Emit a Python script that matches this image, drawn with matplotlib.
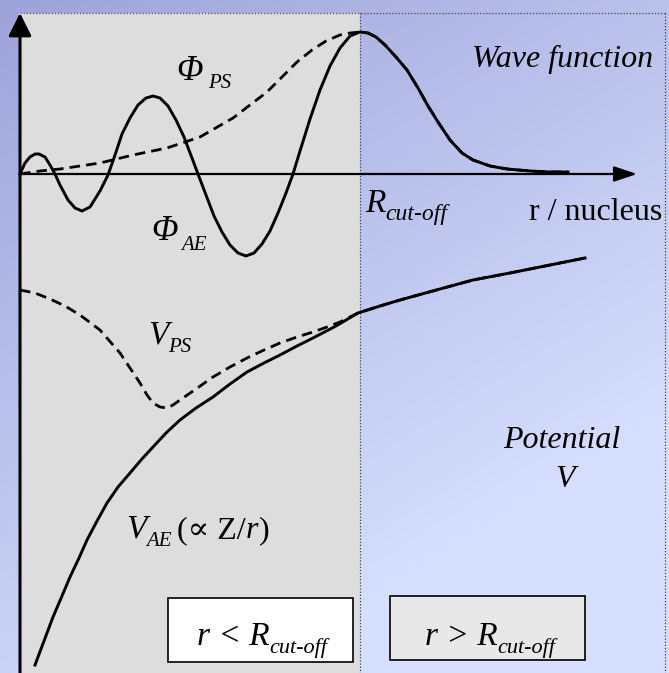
import matplotlib.pyplot as plt
import numpy as np
from matplotlib.patches import Rectangle

plt.rcParams['font.family'] = ['Liberation Serif', 'DejaVu Serif']

# radial coordinate and amplitudes in arbitrary units, cut-off radius at r = 340
r_cut = 340

# all-electron wave function inside the core region
phi_ae_r = [0, 5, 10, 15, 19, 25, 30, 35, 40, 48, 55, 62, 70, 80, 88, 95, 102, 110,
            118, 126, 133, 140, 148, 156, 164, 172, 178, 186, 194, 202, 210, 218,
            226, 234, 242, 250, 258, 266, 273, 280, 290, 300, 310, 320, 330, 340]
phi_ae_v = [0, 11, 17, 20, 20, 17, 9, 0, -11, -26, -34, -37, -33, -17, -1, 19, 40, 56,
            69, 76, 78, 76, 68, 54, 37, 16, 0, -21, -42, -58, -71, -79,
            -82, -79, -70, -57, -39, -19, 0, 23, 55, 84, 108, 126, 138, 142]

# pseudo wave function inside the core region (nodeless)
phi_ps_r = [0, 20, 40, 60, 80, 113, 147, 180, 213, 247, 262, 277, 292, 306, 320, 330, 340]
phi_ps_v = [0, 3, 5, 8, 11, 19, 26, 37, 56, 82, 97, 112, 124, 133, 139, 141, 142]

# beyond the cut-off both wave functions coincide
phi_tail_r = [348, 356, 365, 376, 387, 398, 408, 418, 430, 442, 453, 470, 487, 510, 530, 548]
phi_tail_v = [141, 137, 129, 117, 104, 86, 68, 52, 34, 21, 14, 8, 5, 3, 2, 2]

# all-electron potential (Coulomb-like) inside the core region
v_ae_r = [15, 24, 33, 42, 50, 59, 67, 77, 87, 98, 110, 121, 133, 146, 160, 176, 193,
          210, 227, 244, 260, 277, 293, 316, 338]
v_ae_v = [-491, -467, -443, -422, -403, -384, -366, -347, -329, -313, -299, -286, -273,
          -259, -246, -234, -223, -210, -198, -189, -181, -172, -164, -152, -139]

# pseudopotential inside the core region
v_ps_r = [0, 15, 30, 45, 60, 80, 100, 110, 120, 127, 133, 140, 147, 153, 160, 176, 193,
          210, 227, 244, 260, 277, 293, 307, 320, 338]
v_ps_v = [-116, -119, -125, -132, -141, -156, -179, -194, -209, -221, -229, -233, -234,
          -231, -226, -215, -203, -193, -184, -176, -169, -163, -158, -153, -148, -139]

# potentials are identical outside the core
v_tail_r = [360, 380, 420, 453, 490, 520, 565]
v_tail_v = [-132, -126, -115, -106, -99, -93, -84]


def label(ax, x, y, main, sub, size=23, subsize=15, gap=2, drop=8):
    t = ax.text(x, y, main, fontsize=size, fontstyle='italic',
                ha='left', va='baseline', zorder=6)
    s = ax.annotate(sub, xy=(1, y), xycoords=(t, 'data'), xytext=(gap, -drop),
                    textcoords='offset pixels', fontsize=subsize, fontstyle='italic',
                    ha='left', va='baseline', zorder=6)
    return s


def main():
    fig = plt.figure(figsize=(6.69, 6.73), dpi=100)
    ax = fig.add_axes([0, 0, 1, 1])
    x0, x1, y0, y1 = -20, 649, -499, 174
    ax.set_xlim(x0, x1)
    ax.set_ylim(y0, y1)
    ax.axis('off')

    # blue diagonal background
    yy, xx = np.mgrid[0:1:673j, 0:1:669j]
    t = np.clip(0.8 * yy + 0.5 * xx, 0, 1)[..., None]
    c0 = np.array([157, 163, 217]) / 255
    c1 = np.array([214, 223, 254]) / 255
    ax.imshow(c0 + (c1 - c0) * t, extent=(x0, x1, y0, y1), aspect='auto',
              origin='upper', zorder=0)

    # core region shaded grey
    top = 161
    ax.add_patch(Rectangle((-1, y0), r_cut + 1, top - y0, fc='#dddddd', ec='none', zorder=1))
    dot = dict(color='#444444', lw=0.9, ls=(0, (1, 1.5)), zorder=2)
    ax.plot([0, 645], [top, top], **dot)
    ax.plot([645, 645], [top, y0], **dot)
    ax.plot([r_cut, r_cut], [top, y0], **dot)

    # axes with arrow heads
    ax.annotate('', xy=(0, top), xytext=(0, y0),
                arrowprops=dict(arrowstyle='-|>,head_length=1.4,head_width=0.7',
                                lw=2.2, color='black', shrinkA=0, shrinkB=0,
                                mutation_scale=10), zorder=4)
    ax.annotate('', xy=(617, 0), xytext=(0, 0),
                arrowprops=dict(arrowstyle='-|>,head_length=1.4,head_width=0.47',
                                lw=1.6, color='black', shrinkA=0, shrinkB=0,
                                mutation_scale=10), zorder=4)

    # wave functions
    dash = (0, (3.8, 2.2))
    ax.plot(phi_ps_r + phi_tail_r, phi_ps_v + phi_tail_v, color='black', lw=2.0,
            ls=dash, zorder=3)
    ax.plot(phi_ae_r + phi_tail_r, phi_ae_v + phi_tail_v, color='black', lw=2.1,
            solid_joinstyle='round', zorder=3)

    # potentials
    ax.plot(v_ps_r + v_tail_r, v_ps_v + v_tail_v, color='black', lw=2.0, ls=dash, zorder=3)
    ax.plot(v_ae_r + v_tail_r, v_ae_v + v_tail_v, color='black', lw=2.1,
            solid_joinstyle='round', zorder=3)

    # region boxes
    ax.add_patch(Rectangle((148, -488), 185, 64, fc='white', ec='black', lw=1.2, zorder=5))
    ax.add_patch(Rectangle((370, -486), 195, 64, fc='#e8e8e8', ec='black', lw=1.2, zorder=5))

    # labels
    ax.text(633, 107, 'Wave function', fontsize=23, fontstyle='italic',
            ha='right', va='baseline', zorder=6)
    label(ax, 156, 94, '\u03a6', 'PS', size=25, subsize=15, gap=6, drop=8)
    label(ax, 131, -66, '\u03a6', 'AE', size=25, subsize=15, gap=4, drop=10)
    label(ax, 128, -169, 'V', 'PS', size=24, subsize=15, gap=0, drop=9)
    label(ax, 345, -38, 'R', 'cut-off', size=24, subsize=17, gap=0, drop=8)
    ax.text(509, -46, 'r / nucleus', fontsize=23, ha='left', va='baseline', zorder=6)
    ax.text(542, -274, 'Potential', fontsize=23, fontstyle='italic',
            ha='center', va='baseline', zorder=6)
    ax.text(545, -313, 'V', fontsize=23, fontstyle='italic',
            ha='center', va='baseline', zorder=6)
    s = label(ax, 106, -364, 'V', 'AE', size=24, subsize=15, gap=0, drop=8)
    p = ax.annotate('(\u221d Z/', xy=(1, -364), xycoords=(s, 'data'), xytext=(5, 0),
                    textcoords='offset pixels', fontsize=23, ha='left',
                    va='baseline', zorder=6)
    q = ax.annotate('r', xy=(1, -364), xycoords=(p, 'data'), xytext=(0, 0),
                    textcoords='offset pixels', fontsize=23, fontstyle='italic',
                    ha='left', va='baseline', zorder=6)
    ax.annotate(')', xy=(1, -364), xycoords=(q, 'data'), xytext=(1, 0),
                textcoords='offset pixels', fontsize=23, ha='left',
                va='baseline', zorder=6)
    label(ax, 177, -471, 'r < R', 'cut-off', size=24, subsize=16, gap=0, drop=8)
    label(ax, 405, -471, 'r > R', 'cut-off', size=24, subsize=16, gap=0, drop=8)

    plt.savefig('out.png', dpi=100)


if __name__ == '__main__':
    main()
